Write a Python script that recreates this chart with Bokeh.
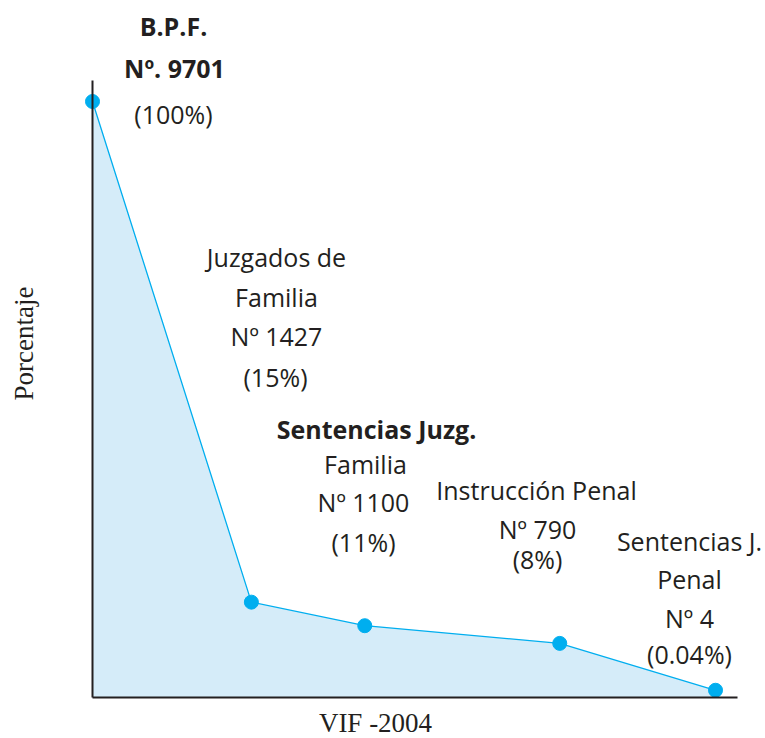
from bokeh.plotting import figure
from bokeh.models import Label, Range1d, FixedTicker
from bokeh.embed import file_html
from bokeh.resources import INLINE
import math

# ---- data ----
stages = ["B.P.F.", "Juzgados de Familia", "Sentencias Juzg. Familia",
          "Instrucción Penal", "Sentencias J. Penal"]
stage_x = [0, 2.55, 4.37, 7.5, 10]          # horizontal spacing of the stages
counts = [9701, 1427, 1100, 790, 4]
percent = [100, 15, 11, 8, 0.04]
percent_labels = ["100%", "15%", "11%", "8%", "0.04%"]
name_lines = [["B.P.F."], ["Juzgados de", "Familia"], ["Sentencias Juzg.", "Familia"],
              ["Instrucción Penal"], ["Sentencias J.", "Penal"]]
x_title = "VIF -2004"
y_title = "Porcentaje"

# ---- layout (canvas px) ----
W, H = 765, 738
PX0, PX10 = 92.0, 715.0      # px of x = 0 and x = 10
PY0, PY100 = 690.0, 101.0    # px of y = 0 and y = 100
SX = (PX10 - PX0) / 10.0
SY = (PY0 - PY100) / 100.0

def dx(px):
    return (px - PX0) / SX

def dy(py):
    return (PY0 - py) / SY

AX_L, AX_R, AX_T, AX_B = 92, 737, 80, 697   # axis extents in px

TXT = "#231F20"
BLUE = "#00AEEF"
FILL = "#D5ECF9"

p = figure(width=W, height=H, output_backend="svg", toolbar_location=None,
           x_range=Range1d(dx(0), dx(W)), y_range=Range1d(dy(H), dy(0)),
           min_border=0)
p.outline_line_color = None
p.grid.visible = False
p.background_fill_color = "white"
p.border_fill_color = "white"
for ax in (p.xaxis, p.yaxis):
    ax.ticker = FixedTicker(ticks=[])
    ax.major_tick_line_color = None
    ax.minor_tick_line_color = None
    ax.major_label_standoff = 0
    ax.axis_line_color = TXT
    ax.axis_line_width = 2
p.xaxis.fixed_location = dy(AX_B)
p.xaxis.bounds = (dx(AX_L), dx(AX_R))
p.yaxis.fixed_location = dx(AX_L)
p.yaxis.bounds = (dy(AX_B), dy(AX_T))

base = [dy(AX_B)] * len(stage_x)
p.varea(x=stage_x, y1=base, y2=percent, fill_color=FILL)
p.line(x=stage_x, y=percent, line_color=BLUE, line_width=1.3)
p.scatter(x=stage_x, y=percent, size=14, fill_color=BLUE, line_color=BLUE)

FONT = "Open Sans"
FS = "25px"

def lab(text, px, py, bold=False):
    p.add_layout(Label(x=dx(px), y=dy(py), text=text, text_align="center",
                       text_baseline="middle", text_font=FONT, text_font_size=FS,
                       text_color=TXT, text_font_style="bold" if bold else "normal"))

# label placements (px centres) per stage, one per text line
places = [
    [(173, 25), (174, 67), (173, 113)],
    [(276, 256), (276, 296), (276, 335), (275, 376)],
    [(376, 428), (365, 463), (363, 501), (363, 541)],
    [(536, 489), (537, 528), (537, 558)],
    [(689, 540), (689, 578), (689, 617), (689, 653)],
]
for i in range(len(stages)):
    lines = list(name_lines[i])
    lines.append(f"Nº. {counts[i]}" if i == 0 else f"Nº {counts[i]}")
    lines.append(f"({percent_labels[i]})")
    for j, t in enumerate(lines):
        bold = (i == 0 and j < 2) or (i == 2 and j == 0)
        lab(t, places[i][j][0], places[i][j][1], bold)

p.add_layout(Label(x=dx(375), y=dy(722), text=x_title, text_align="center",
                   text_baseline="middle", text_font="Liberation Serif",
                   text_font_size="27px", text_color=TXT))
p.add_layout(Label(x=dx(23), y=dy(343), text=y_title, text_align="center",
                   text_baseline="middle", text_font="Liberation Serif",
                   text_font_size="27px", text_color=TXT, angle=math.pi / 2))

open("out.html", "w").write(file_html(p, INLINE))
